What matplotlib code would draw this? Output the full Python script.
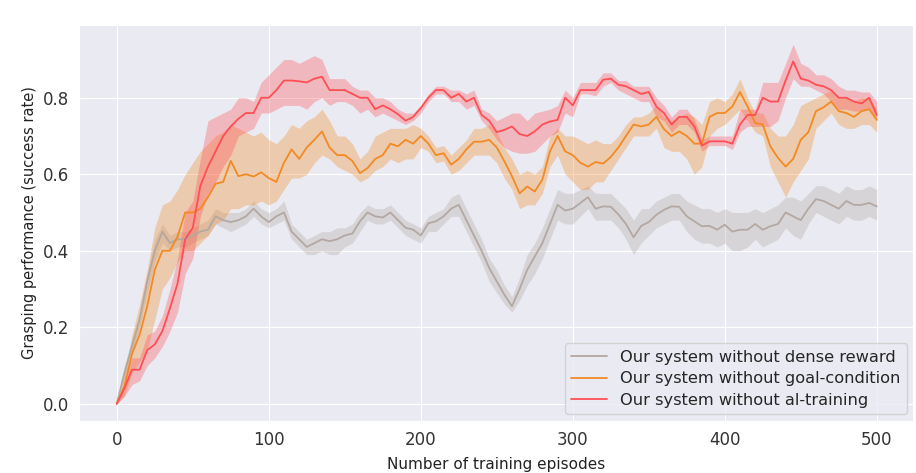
import numpy as np
import matplotlib
matplotlib.use("Agg")
import matplotlib.pyplot as plt
import seaborn as sns

sns.set_style("darkgrid")
plt.rcParams["font.family"] = ["DejaVu Sans"]

# episodes sampled every 5
episodes = np.arange(0, 505, 5)

# --- Our system without dense reward (grey) ---
dense_mean = [0.0, 0.08, 0.15, 0.22, 0.32, 0.40, 0.45, 0.42, 0.43, 0.43,
              0.44, 0.45, 0.455, 0.49, 0.48, 0.475, 0.48, 0.49, 0.51, 0.49,
              0.475, 0.49, 0.50, 0.45, 0.43, 0.41, 0.42, 0.43, 0.425, 0.43,
              0.44, 0.445, 0.477, 0.50, 0.49, 0.487, 0.50, 0.48, 0.46, 0.455,
              0.44, 0.472, 0.477, 0.49, 0.51, 0.52, 0.48, 0.44, 0.40, 0.355,
              0.32, 0.285, 0.255, 0.30, 0.35, 0.385, 0.42, 0.47, 0.52, 0.505,
              0.51, 0.525, 0.54, 0.51, 0.516, 0.515, 0.495, 0.47, 0.435, 0.465,
              0.475, 0.494, 0.507, 0.516, 0.515, 0.49, 0.477, 0.464, 0.465, 0.455,
              0.468, 0.45, 0.455, 0.455, 0.47, 0.455, 0.464, 0.47, 0.50, 0.49,
              0.48, 0.51, 0.535, 0.53, 0.52, 0.51, 0.53, 0.52, 0.52, 0.525,
              0.516]
dense_lo = [0.0, 0.06, 0.13, 0.20, 0.29, 0.37, 0.42, 0.40, 0.41, 0.41,
            0.42, 0.43, 0.44, 0.47, 0.46, 0.45, 0.46, 0.47, 0.49, 0.47,
            0.46, 0.47, 0.48, 0.43, 0.41, 0.39, 0.39, 0.40, 0.39, 0.39,
            0.41, 0.42, 0.45, 0.48, 0.47, 0.47, 0.48, 0.46, 0.44, 0.43,
            0.42, 0.45, 0.45, 0.47, 0.49, 0.49, 0.45, 0.41, 0.37, 0.32,
            0.29, 0.26, 0.24, 0.27, 0.31, 0.34, 0.38, 0.43, 0.48, 0.47,
            0.47, 0.49, 0.51, 0.48, 0.48, 0.48, 0.46, 0.43, 0.39, 0.42,
            0.44, 0.46, 0.47, 0.48, 0.48, 0.45, 0.43, 0.42, 0.42, 0.41,
            0.42, 0.40, 0.40, 0.41, 0.43, 0.41, 0.42, 0.43, 0.46, 0.44,
            0.43, 0.47, 0.50, 0.49, 0.48, 0.47, 0.49, 0.48, 0.48, 0.49,
            0.48]
dense_hi = [0.0, 0.10, 0.17, 0.24, 0.34, 0.43, 0.47, 0.44, 0.45, 0.45,
            0.46, 0.47, 0.48, 0.51, 0.50, 0.50, 0.50, 0.51, 0.53, 0.51,
            0.50, 0.51, 0.53, 0.47, 0.45, 0.43, 0.44, 0.45, 0.45, 0.46,
            0.46, 0.47, 0.50, 0.52, 0.51, 0.51, 0.52, 0.50, 0.48, 0.47,
            0.46, 0.49, 0.50, 0.51, 0.54, 0.55, 0.51, 0.47, 0.43, 0.38,
            0.35, 0.31, 0.28, 0.33, 0.39, 0.42, 0.46, 0.51, 0.56, 0.55,
            0.55, 0.56, 0.57, 0.55, 0.55, 0.55, 0.53, 0.51, 0.48, 0.51,
            0.51, 0.53, 0.54, 0.55, 0.55, 0.53, 0.52, 0.51, 0.51, 0.50,
            0.51, 0.50, 0.50, 0.50, 0.51, 0.50, 0.51, 0.52, 0.54, 0.54,
            0.53, 0.55, 0.57, 0.57, 0.56, 0.55, 0.57, 0.56, 0.56, 0.57,
            0.56]

# --- Our system without goal-condition (orange) ---
goal_mean = [0.0, 0.045, 0.13, 0.18, 0.255, 0.35, 0.40, 0.40, 0.437, 0.50,
             0.50, 0.51, 0.54, 0.575, 0.58, 0.635, 0.595, 0.60, 0.594, 0.605,
             0.59, 0.58, 0.63, 0.665, 0.64, 0.67, 0.69, 0.712, 0.67, 0.65,
             0.65, 0.635, 0.603, 0.616, 0.64, 0.65, 0.68, 0.673, 0.69, 0.68,
             0.70, 0.68, 0.65, 0.655, 0.625, 0.64, 0.665, 0.685, 0.685, 0.69,
             0.67, 0.634, 0.595, 0.55, 0.568, 0.555, 0.586, 0.66, 0.70, 0.66,
             0.65, 0.63, 0.62, 0.632, 0.628, 0.645, 0.67, 0.70, 0.73, 0.725,
             0.73, 0.75, 0.718, 0.70, 0.712, 0.70, 0.68, 0.68, 0.75, 0.76,
             0.76, 0.777, 0.815, 0.777, 0.734, 0.73, 0.673, 0.643, 0.62, 0.64,
             0.69, 0.71, 0.765, 0.775, 0.79, 0.765, 0.76, 0.75, 0.765, 0.77,
             0.742]
goal_lo = [0.0, 0.02, 0.08, 0.11, 0.14, 0.22, 0.30, 0.33, 0.37, 0.40,
           0.40, 0.42, 0.44, 0.47, 0.48, 0.51, 0.51, 0.52, 0.52, 0.53,
           0.52, 0.53, 0.56, 0.59, 0.59, 0.60, 0.63, 0.65, 0.64, 0.62,
           0.61, 0.60, 0.58, 0.59, 0.61, 0.62, 0.64, 0.63, 0.64, 0.64,
           0.67, 0.66, 0.63, 0.635, 0.60, 0.61, 0.63, 0.65, 0.65, 0.65,
           0.63, 0.59, 0.56, 0.51, 0.52, 0.52, 0.55, 0.62, 0.65, 0.60,
           0.58, 0.56, 0.56, 0.58, 0.58, 0.61, 0.64, 0.67, 0.70, 0.70,
           0.70, 0.72, 0.67, 0.66, 0.66, 0.64, 0.60, 0.62, 0.70, 0.72,
           0.73, 0.75, 0.77, 0.74, 0.71, 0.70, 0.62, 0.58, 0.54, 0.58,
           0.61, 0.64, 0.72, 0.74, 0.76, 0.73, 0.72, 0.72, 0.73, 0.73,
           0.71]
goal_hi = [0.0, 0.08, 0.18, 0.26, 0.35, 0.46, 0.52, 0.53, 0.56, 0.60,
           0.63, 0.66, 0.68, 0.70, 0.71, 0.73, 0.72, 0.71, 0.70, 0.71,
           0.69, 0.68, 0.70, 0.73, 0.72, 0.74, 0.75, 0.77, 0.74, 0.70,
           0.70, 0.68, 0.64, 0.66, 0.70, 0.71, 0.72, 0.72, 0.72, 0.73,
           0.72, 0.70, 0.67, 0.675, 0.65, 0.67, 0.69, 0.72, 0.72, 0.73,
           0.71, 0.67, 0.64, 0.60, 0.61, 0.60, 0.62, 0.70, 0.72, 0.70,
           0.70, 0.69, 0.68, 0.69, 0.68, 0.68, 0.70, 0.73, 0.75, 0.75,
           0.76, 0.78, 0.75, 0.74, 0.75, 0.76, 0.75, 0.73, 0.79, 0.80,
           0.79, 0.81, 0.85, 0.80, 0.76, 0.76, 0.72, 0.70, 0.70, 0.73,
           0.78, 0.79, 0.80, 0.81, 0.82, 0.80, 0.80, 0.79, 0.80, 0.80,
           0.77]

# --- Our system without al-training (red) ---
al_mean = [0.0, 0.04, 0.089, 0.089, 0.14, 0.155, 0.19, 0.25, 0.315, 0.43,
           0.46, 0.57, 0.62, 0.66, 0.70, 0.725, 0.745, 0.76, 0.76, 0.80,
           0.80, 0.82, 0.845, 0.845, 0.843, 0.84, 0.85, 0.855, 0.82, 0.82,
           0.82, 0.81, 0.80, 0.80, 0.77, 0.78, 0.77, 0.757, 0.74, 0.75,
           0.773, 0.80, 0.82, 0.82, 0.80, 0.81, 0.79, 0.80, 0.755, 0.74,
           0.71, 0.716, 0.725, 0.705, 0.70, 0.712, 0.73, 0.738, 0.742, 0.80,
           0.78, 0.82, 0.82, 0.82, 0.847, 0.85, 0.834, 0.83, 0.82, 0.81,
           0.815, 0.777, 0.76, 0.73, 0.75, 0.75, 0.725, 0.675, 0.686, 0.686,
           0.686, 0.68, 0.73, 0.755, 0.755, 0.80, 0.79, 0.79, 0.845, 0.895,
           0.85, 0.845, 0.834, 0.83, 0.82, 0.80, 0.80, 0.79, 0.785, 0.80,
           0.755]
al_lo = [0.0, 0.02, 0.05, 0.06, 0.10, 0.12, 0.15, 0.19, 0.24, 0.34,
         0.38, 0.49, 0.55, 0.58, 0.62, 0.65, 0.70, 0.71, 0.72, 0.76,
         0.76, 0.77, 0.78, 0.78, 0.78, 0.77, 0.79, 0.80, 0.78, 0.79,
         0.79, 0.78, 0.76, 0.77, 0.75, 0.76, 0.75, 0.74, 0.73, 0.74,
         0.76, 0.79, 0.81, 0.81, 0.79, 0.79, 0.77, 0.78, 0.74, 0.72,
         0.69, 0.67, 0.66, 0.655, 0.655, 0.66, 0.68, 0.70, 0.71, 0.76,
         0.75, 0.81, 0.81, 0.805, 0.83, 0.84, 0.82, 0.81, 0.80, 0.79,
         0.79, 0.75, 0.74, 0.71, 0.73, 0.73, 0.71, 0.66, 0.675, 0.675,
         0.675, 0.665, 0.71, 0.725, 0.725, 0.725, 0.725, 0.74, 0.80, 0.85,
         0.83, 0.83, 0.82, 0.81, 0.79, 0.77, 0.77, 0.765, 0.765, 0.77,
         0.74]
al_hi = [0.0, 0.06, 0.12, 0.12, 0.18, 0.19, 0.23, 0.30, 0.38, 0.50,
         0.53, 0.64, 0.74, 0.75, 0.76, 0.77, 0.80, 0.80, 0.79, 0.84,
         0.86, 0.88, 0.90, 0.90, 0.89, 0.90, 0.91, 0.90, 0.85, 0.85,
         0.85, 0.83, 0.82, 0.82, 0.80, 0.80, 0.79, 0.77, 0.76, 0.76,
         0.78, 0.81, 0.83, 0.83, 0.82, 0.82, 0.81, 0.82, 0.77, 0.76,
         0.74, 0.75, 0.76, 0.76, 0.74, 0.76, 0.765, 0.77, 0.78, 0.82,
         0.80, 0.84, 0.84, 0.84, 0.865, 0.865, 0.845, 0.845, 0.83, 0.83,
         0.83, 0.80, 0.78, 0.75, 0.77, 0.77, 0.745, 0.69, 0.70, 0.70,
         0.70, 0.70, 0.77, 0.77, 0.77, 0.84, 0.84, 0.84, 0.89, 0.94,
         0.89, 0.88, 0.86, 0.86, 0.85, 0.83, 0.82, 0.82, 0.815, 0.815,
         0.79]

labels = ["Our system without dense reward",
          "Our system without goal-condition",
          "Our system without al-training"]
colors = ["#b3a8a2", "#f28a24", "#ff4f55"]

fig = plt.figure(figsize=(9.16, 4.73), dpi=100)
ax = fig.add_axes([0.086, 0.110, 0.911, 0.837])

series = [(dense_mean, dense_lo, dense_hi),
          (goal_mean, goal_lo, goal_hi),
          (al_mean, al_lo, al_hi)]
for (m, lo, hi), lab, c in zip(series, labels, colors):
    ax.fill_between(episodes, lo, hi, color=c, alpha=0.33, linewidth=0)
    ax.plot(episodes, m, color=c, linewidth=1.3, label=lab)

ax.set_xlim(-25, 524)
ax.set_ylim(-0.045, 0.99)
ax.set_xticks([0, 100, 200, 300, 400, 500])
ax.set_yticks([0.0, 0.2, 0.4, 0.6, 0.8])
ax.tick_params(labelsize=12, colors="#333333")
ax.set_ylabel("Grasping performance (success rate)", fontsize=10.5, color="#222222")
ax.set_xlabel("Number of training episodes", fontsize=11, color="#222222", labelpad=6)

ax.legend(loc="lower right", fontsize=11.7, frameon=True, borderpad=0.4,
          handlelength=2.2, labelspacing=0.4, borderaxespad=0.4)

fig.savefig("out.png", dpi=100)
